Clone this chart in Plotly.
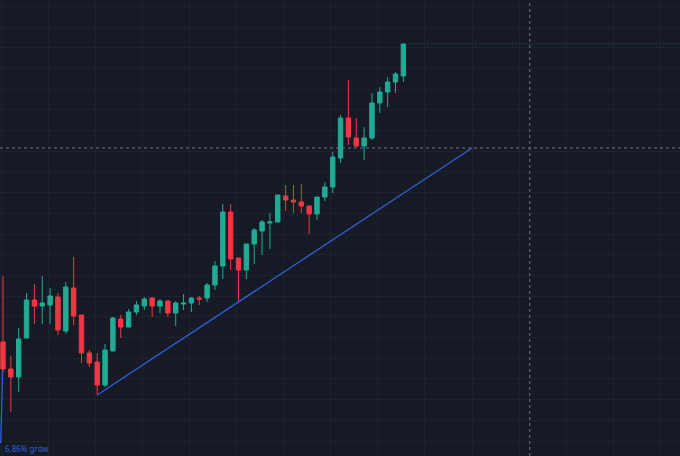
import plotly.graph_objects as go

# candle index -> price (chart has no visible price scale, values are read off the picture)
idx = list(range(52))
opens = [114, 87, 79, 118, 156, 150, 151, 159, 125, 168, 141, 103, 94, 71, 105, 137, 129, 144,
         150, 158, 150, 155, 143, 152, 153, 158, 158, 171, 190, 244, 198, 186, 212, 225, 233, 234,
         260, 256, 254, 250, 242, 259, 269, 298, 338, 318, 310, 318, 353, 364, 374, 380]
highs = [180, 100, 128, 163, 172, 180, 168, 163, 174, 199, 141, 106, 103, 112, 139, 141, 147, 155,
         159, 159, 157, 156, 155, 162, 159, 160, 173, 195, 252, 252, 198, 212, 228, 236, 243, 261,
         271, 271, 272, 250, 259, 274, 304, 341, 376, 338, 329, 363, 369, 379, 384, 412]
lows = [84, 44, 64, 118, 132, 132, 132, 121, 122, 131, 93, 89, 61, 69, 105, 118, 129, 141,
        146, 139, 143, 139, 130, 146, 144, 151, 154, 166, 177, 186, 154, 177, 192, 201, 207, 234,
        245, 243, 243, 222, 236, 255, 263, 293, 311, 309, 296, 316, 343, 349, 363, 374]
closes = [87, 79, 117, 156, 150, 153, 160, 126, 169, 140, 103, 93, 71, 106, 138, 129, 144, 151,
          157, 150, 155, 143, 153, 153, 158, 157, 171, 190, 244, 197, 186, 212, 226, 234, 234, 261,
          256, 254, 250, 242, 259, 269, 299, 338, 319, 310, 318, 353, 364, 374, 382, 412]

# drawings on the chart
trend_x = [12, 59.75]
trend_y = [61, 308]
left_line_x = [-0.29, -0.04]
left_line_y = [13, 86]
cross_x = 67.1
cross_y = 308
label = "6,86% grow"

BG = "#161a25"
GRID = "#1d222e"
UP = "#22ab94"
DOWN = "#f23645"
BLUE = "#2f5fd8"

fig = go.Figure()
fig.add_trace(go.Candlestick(
    x=idx, open=opens, high=highs, low=lows, close=closes,
    increasing=dict(line=dict(color=UP, width=1), fillcolor=UP),
    decreasing=dict(line=dict(color=DOWN, width=1), fillcolor=DOWN),
    hoverinfo="skip", showlegend=False,
))
fig.add_trace(go.Scatter(x=trend_x, y=trend_y, mode="lines",
                         line=dict(color=BLUE, width=1.3), hoverinfo="skip", showlegend=False))
fig.add_trace(go.Scatter(x=left_line_x, y=left_line_y, mode="lines",
                         line=dict(color=BLUE, width=1.3), hoverinfo="skip", showlegend=False))

# last price line + crosshair
fig.add_shape(type="line", xref="x", yref="y", x0=idx[-1], x1=90, y0=closes[-1], y1=closes[-1],
              line=dict(color="rgba(34,171,148,0.35)", width=1, dash="2px,2px"), layer="below")
fig.add_shape(type="line", xref="x", yref="paper", x0=cross_x, x1=cross_x, y0=0, y1=1,
              line=dict(color="#737783", width=1, dash="3px,3px"))
fig.add_shape(type="line", xref="paper", yref="y", x0=0, x1=1, y0=cross_y, y1=cross_y,
              line=dict(color="#737783", width=1, dash="3px,3px"))

fig.add_annotation(text=label, xref="paper", yref="paper", x=0.005, y=0.0,
                   xanchor="left", yanchor="bottom", showarrow=False,
                   font=dict(family="Noto Sans", size=8, color=BLUE))

fig.update_layout(
    width=680, height=456,
    margin=dict(l=0, r=0, t=0, b=0),
    paper_bgcolor=BG, plot_bgcolor=BG,
    boxgap=0.2,
    xaxis=dict(range=[-0.382, 86.24], rangeslider=dict(visible=False), showticklabels=False,
               showgrid=True, gridcolor=GRID, gridwidth=1, tick0=-0.25, dtick=6, zeroline=False,
               showline=False, fixedrange=True),
    yaxis=dict(range=[0, 456], showticklabels=False, showgrid=True, gridcolor=GRID, gridwidth=1,
               tick0=15, dtick=20.7, zeroline=False, showline=False, fixedrange=True),
)

# page has a default 8px body margin, drop it so the chart fills the window
fig.write_html("out.html", config={"displayModeBar": False},
               post_script="document.body.style.margin='0';document.body.style.background='%s';" % BG)
